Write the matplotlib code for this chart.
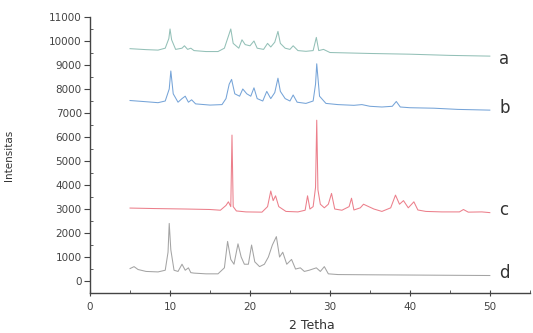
import numpy as np
import matplotlib
matplotlib.use("Agg")
import matplotlib.pyplot as plt
from matplotlib.ticker import MultipleLocator

plt.rcParams['font.family'] = ['DejaVu Sans']

### DATOS (vertices de cada patron) ###
xa = [5, 7, 8.5, 9.4, 9.85, 10.0, 10.2, 10.7, 11.5, 11.8, 12.2, 12.6, 13, 14.5, 16,
      16.8, 17.3, 17.6, 17.9, 18.6, 19.0, 19.4, 20.0, 20.5, 20.9, 21.7, 22.2, 22.6,
      23.1, 23.5, 23.8, 24.4, 25.0, 25.4, 26.0, 27.0, 27.9, 28.3, 28.6, 29.2, 30,
      35, 40, 45, 50]
ya = [9680, 9640, 9620, 9700, 10100, 10500, 10050, 9650, 9700, 9800, 9650, 9700,
      9600, 9560, 9560, 9700, 10200, 10500, 9900, 9700, 10050, 9850, 9800, 10000,
      9700, 9650, 9900, 9750, 9950, 10400, 9900, 9700, 9650, 9800, 9600, 9570,
      9600, 10150, 9600, 9650, 9520, 9480, 9450, 9400, 9370]

xb = [5, 7, 8.5, 9.4, 9.9, 10.1, 10.4, 11.0, 11.5, 11.9, 12.3, 12.7, 13.2, 15,
      16.5, 17.0, 17.4, 17.7, 18.1, 18.7, 19.1, 19.6, 20.1, 20.5, 20.9, 21.6, 22.1,
      22.6, 23.1, 23.5, 23.8, 24.4, 25.0, 25.4, 25.9, 27, 27.9, 28.2, 28.35, 28.7,
      29.5, 31, 33, 34, 35, 36.5, 37.8, 38.3, 38.8, 40, 43, 46, 50]
yb = [7520, 7470, 7430, 7500, 8000, 8750, 7800, 7450, 7600, 7700, 7450, 7550,
      7380, 7330, 7350, 7600, 8200, 8400, 7800, 7700, 8000, 7800, 7700, 8050,
      7600, 7500, 7900, 7600, 7850, 8450, 7900, 7600, 7500, 7750, 7450, 7400,
      7500, 8200, 9050, 7700, 7400, 7350, 7320, 7350, 7280, 7250, 7280, 7480,
      7250, 7220, 7200, 7150, 7120]

xc = [5, 8, 12, 15, 16.3, 17.0, 17.3, 17.6, 17.75, 17.9, 18.3, 19.5, 21.5, 22.2,
      22.6, 22.9, 23.2, 23.6, 24.5, 26, 26.9, 27.2, 27.5, 27.9, 28.2, 28.35, 28.5,
      28.8, 29.3, 29.8, 30.2, 30.6, 31.5, 32.4, 32.7, 33.0, 33.8, 34.2, 35.5, 36.5,
      37.6, 38.2, 38.7, 39.2, 39.8, 40.5, 41, 42, 44, 46.2, 46.7, 47.3, 49, 50]
yc = [3040, 3020, 3000, 2980, 2950, 3150, 3300, 3100, 6080, 3100, 2920, 2880,
      2870, 3100, 3750, 3350, 3550, 3100, 2900, 2880, 2950, 3550, 3000, 3100,
      3900, 6700, 3800, 3200, 3050, 3200, 3650, 3000, 2950, 3100, 3450, 2960,
      3050, 3200, 3000, 2900, 3050, 3580, 3200, 3350, 3050, 3300, 2960, 2900,
      2880, 2880, 2980, 2870, 2880, 2850]

xd = [5, 5.5, 6, 7, 8.5, 9.4, 9.75, 9.9, 10.1, 10.5, 11, 11.5, 11.9, 12.3, 12.6, 13,
      14.5, 16, 16.8, 17.2, 17.6, 18.0, 18.5, 18.9, 19.3, 19.8, 20.2, 20.6, 21.2,
      21.8, 22.3, 22.8, 23.3, 23.7, 24.1, 24.6, 25.2, 25.7, 26.3, 26.8, 27.4, 28.3,
      28.8, 29.3, 29.8, 31, 35, 40, 45, 50]
yd = [520, 600, 480, 400, 380, 450, 1200, 2400, 1300, 450, 400, 700, 450, 550,
      350, 330, 300, 300, 550, 1650, 900, 700, 1550, 1000, 700, 700, 1500, 800,
      600, 700, 1000, 1500, 1850, 1000, 1200, 700, 900, 500, 550, 400, 450, 550,
      400, 600, 300, 270, 260, 250, 240, 230]

etiquetas = ['a', 'b', 'c', 'd']
pos_etiq = [9250, 7200, 2950, 350]
colores = ['#93c0b7', '#76a4d8', '#ec7f8b', '#a4a4a4']

### FIGURA ###
fig = plt.figure(figsize=(5.33, 3.33), dpi=100)
ax = fig.add_axes([0.169, 0.12, 0.825, 0.829])

for xs, ys, c in zip([xa, xb, xc, xd], [ya, yb, yc, yd], colores):
    ax.plot(xs, ys, color=c, lw=0.75)

for et, yy in zip(etiquetas, pos_etiq):
    ax.text(51.2, yy, et, fontsize=12, color='#333333', va='center', ha='left')

ax.set_xlim(0, 55)
ax.set_ylim(-500, 11000)
ax.xaxis.set_minor_locator(MultipleLocator(5))
ax.yaxis.set_major_locator(MultipleLocator(1000))
ax.yaxis.set_minor_locator(MultipleLocator(500))
ax.set_xticks(np.arange(0, 51, 10))

ax.spines['top'].set_visible(False)
ax.spines['right'].set_visible(False)
for s in ['left', 'bottom']:
    ax.spines[s].set_color('#444444')
    ax.spines[s].set_linewidth(1.0)

ax.tick_params(axis='both', which='major', labelsize=7.5, colors='#444444',
               labelcolor='#444444', length=4, width=0.8)
ax.tick_params(axis='x', which='major', direction='inout', length=5, pad=4)
ax.tick_params(axis='y', which='major', direction='out', pad=2)
ax.tick_params(axis='both', which='minor', direction='in', length=2.5,
               width=0.6, colors='#444444')

ax.set_xlabel('2 Tetha', fontsize=9, color='#333333')
ax.xaxis.set_label_coords(0.505, -0.095)
ax.set_ylabel('Intensitas', fontsize=7.5, color='#333333')
ax.yaxis.set_label_coords(-0.173, 0.5)

fig.savefig('out.png', dpi=100)
